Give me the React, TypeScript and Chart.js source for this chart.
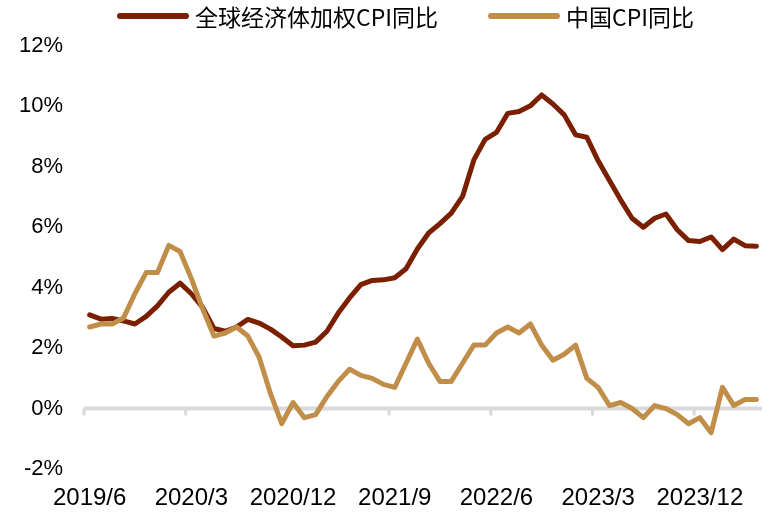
import React, { useEffect, useRef } from 'react';
import { Chart, registerables } from 'chart.js';

Chart.register(...registerables);

const months = [
  '2019/6', '2019/7', '2019/8', '2019/9', '2019/10', '2019/11', '2019/12',
  '2020/1', '2020/2', '2020/3', '2020/4', '2020/5', '2020/6', '2020/7', '2020/8', '2020/9', '2020/10', '2020/11', '2020/12',
  '2021/1', '2021/2', '2021/3', '2021/4', '2021/5', '2021/6', '2021/7', '2021/8', '2021/9', '2021/10', '2021/11', '2021/12',
  '2022/1', '2022/2', '2022/3', '2022/4', '2022/5', '2022/6', '2022/7', '2022/8', '2022/9', '2022/10', '2022/11', '2022/12',
  '2023/1', '2023/2', '2023/3', '2023/4', '2023/5', '2023/6', '2023/7', '2023/8', '2023/9', '2023/10', '2023/11', '2023/12',
  '2024/1', '2024/2', '2024/3', '2024/4', '2024/5',
];

const globalCPI = [
  3.1, 2.96, 2.98, 2.9, 2.8, 3.05, 3.4,
  3.85, 4.15, 3.8, 3.35, 2.65, 2.56, 2.7, 2.95, 2.83, 2.63, 2.37, 2.08,
  2.1, 2.2, 2.56, 3.16, 3.66, 4.1, 4.24, 4.26, 4.33, 4.63, 5.28, 5.81,
  6.12, 6.47, 7.02, 8.23, 8.91, 9.14, 9.77, 9.83, 10.02, 10.38, 10.08, 9.72,
  9.06, 8.98, 8.2, 7.55, 6.9, 6.3, 6.0, 6.3, 6.44, 5.92, 5.56, 5.53,
  5.68, 5.26, 5.61, 5.39, 5.37,
];

const chinaCPI = [
  2.7, 2.8, 2.8, 3.0, 3.8, 4.5, 4.5,
  5.4, 5.2, 4.3, 3.3, 2.4, 2.5, 2.7, 2.4, 1.7, 0.5, -0.5, 0.2,
  -0.3, -0.2, 0.4, 0.9, 1.3, 1.1, 1.0, 0.8, 0.7, 1.5, 2.3, 1.5,
  0.9, 0.9, 1.5, 2.1, 2.1, 2.5, 2.7, 2.5, 2.8, 2.1, 1.6, 1.8,
  2.1, 1.0, 0.7, 0.1, 0.2, 0.0, -0.3, 0.1, 0.0, -0.2, -0.5, -0.3,
  -0.8, 0.7, 0.1, 0.3, 0.3,
];

const seriesNames = ['全球经济体加权CPI同比', '中国CPI同比'];
const seriesColors = ['#7a1f00', '#c18e4a'];
const labelEvery = 9;
const yMin = -2;
const yMax = 12;
const yStep = 2;

const zeroAxisPlugin = {
  id: 'zeroAxis',
  beforeDatasetsDraw(chart: any) {
    const { ctx, chartArea, scales } = chart;
    const x = scales.x;
    const y = scales.y;
    const y0 = y.getPixelForValue(0);
    ctx.save();
    ctx.strokeStyle = '#d9d9d9';
    ctx.lineWidth = 4;
    ctx.beginPath();
    ctx.moveTo(chartArea.left, y0);
    ctx.lineTo(chartArea.right, y0);
    ctx.stroke();
    const half = (x.getPixelForValue(1) - x.getPixelForValue(0)) / 2;
    ctx.lineWidth = 3;
    ctx.beginPath();
    for (let i = 0; i < months.length; i += labelEvery) {
      const px = x.getPixelForValue(i) - half;
      ctx.moveTo(px, y0);
      ctx.lineTo(px, y0 + 7);
    }
    ctx.stroke();
    ctx.restore();
  },
};

const legendPlugin = {
  id: 'customLegend',
  afterDraw(chart: any) {
    const { ctx } = chart;
    const starts = [117, 488];
    const sampleW = 72;
    const cy = 16;
    ctx.save();
    ctx.font = '23px "Noto Sans CJK SC"';
    ctx.textBaseline = 'middle';
    ctx.textAlign = 'left';
    chart.data.datasets.forEach((ds: any, i: number) => {
      const sx = starts[i];
      ctx.strokeStyle = ds.borderColor;
      ctx.lineWidth = 6;
      ctx.lineCap = 'round';
      ctx.beginPath();
      ctx.moveTo(sx + 3, cy);
      ctx.lineTo(sx + sampleW - 3, cy);
      ctx.stroke();
      ctx.fillStyle = '#000';
      ctx.fillText(ds.label, sx + sampleW + 6, cy + 1);
    });
    ctx.restore();
  },
};

export default function App() {
  const canvasRef = useRef<HTMLCanvasElement | null>(null);

  useEffect(() => {
    if (!canvasRef.current) return;
    const chart = new Chart(canvasRef.current, {
      type: 'line',
      data: {
        labels: months,
        datasets: [
          {
            label: seriesNames[0],
            data: globalCPI,
            borderColor: seriesColors[0],
            backgroundColor: seriesColors[0],
            borderWidth: 5,
            pointRadius: 0,
            tension: 0,
            borderJoinStyle: 'round',
            borderCapStyle: 'round',
            order: 1,
          },
          {
            label: seriesNames[1],
            data: chinaCPI,
            borderColor: seriesColors[1],
            backgroundColor: seriesColors[1],
            borderWidth: 5,
            pointRadius: 0,
            tension: 0,
            borderJoinStyle: 'round',
            borderCapStyle: 'round',
            order: 0,
          },
        ],
      },
      options: {
        animation: false,
        responsive: false,
        maintainAspectRatio: false,
        layout: { padding: { top: 46, left: 18, right: 20, bottom: 4 } },
        plugins: {
          legend: { display: false },
          tooltip: { enabled: false },
        },
        scales: {
          x: {
            type: 'category',
            offset: true,
            grid: { display: false, drawTicks: false, offset: true },
            border: { display: false },
            afterFit: (scale: any) => {
              scale.height = 44;
            },
            ticks: {
              autoSkip: false,
              maxRotation: 0,
              minRotation: 0,
              padding: 15,
              color: '#000',
              font: { family: '"Liberation Sans", Arial, sans-serif', size: 24 },
              callback: (_v: any, idx: number) => (idx % labelEvery === 0 ? months[idx] : ''),
            },
          },
          y: {
            min: yMin,
            max: yMax,
            grid: { display: false, drawTicks: false },
            border: { display: false },
            afterFit: (scale: any) => {
              scale.width = 66;
            },
            ticks: {
              stepSize: yStep,
              padding: 21,
              color: '#000',
              font: { family: '"Liberation Sans", Arial, sans-serif', size: 22 },
              callback: (v: any) => `${v}%`,
            },
          },
        },
      },
      plugins: [zeroAxisPlugin, legendPlugin],
    });
    return () => chart.destroy();
  }, []);

  return (
    <div style={{ position: 'fixed', left: 0, top: 0, width: 782, height: 517, background: '#fff' }}>
      <canvas ref={canvasRef} width={782} height={517} style={{ width: 782, height: 517 }} />
    </div>
  );
}
